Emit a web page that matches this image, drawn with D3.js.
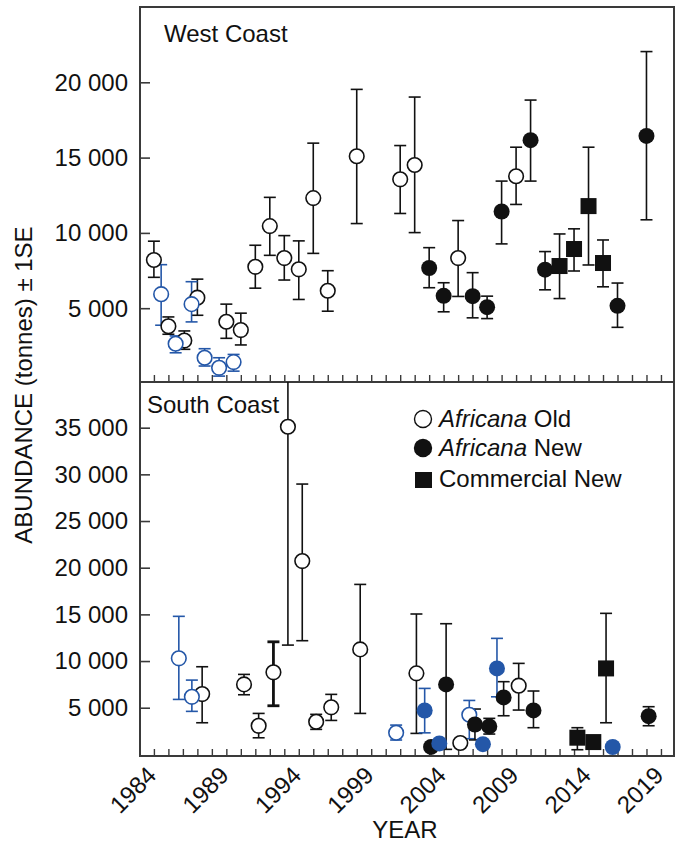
<!DOCTYPE html>
<html>
<head>
<meta charset="utf-8">
<script src="https://cdn.jsdelivr.net/npm/d3@7/dist/d3.min.js"></script>
<style>
  html, body { margin: 0; padding: 0; background: #fff; }
  svg { display: block; font-family: "Liberation Sans", Arial, sans-serif; }
</style>
</head>
<body>
<svg id="chart" width="683" height="843"></svg>
<script>
// Survey years on the shared x axis and the labelled subset
const yearTicks = d3.range(1984, 2020);
const yearLabels = [1984, 1989, 1994, 1999, 2004, 2009, 2014, 2019];
const westTicks = [5000, 10000, 15000, 20000];
const southTicks = [5000, 10000, 15000, 20000, 25000, 30000, 35000];

// Each row: [year, abundance (t), lower bound, upper bound]
const westOld = [
  [1984, 8200, 7050, 9450], [1985, 3800, 3270, 4420], [1986.1, 2850, 2270, 3490],
  [1987, 5700, 4530, 6930], [1989, 4100, 3000, 5270], [1990, 3550, 2560, 4670],
  [1991, 7750, 6330, 9180], [1992, 10450, 8510, 12360], [1993, 8330, 6870, 9820],
  [1994, 7580, 5580, 9470], [1995, 12310, 8640, 15960], [1996, 6160, 4800, 7490],
  [1998, 15090, 10620, 19530], [2001, 13560, 11290, 15800], [2002, 14510, 10020, 19020],
  [2005, 8330, 5780, 10820], [2009, 13760, 11890, 15690]
];
const westOldWinter = [
  [1984.5, 5930, 3870, 7890], [1985.5, 2640, 2040, 3160], [1986.6, 5270, 4090, 6760],
  [1987.5, 1710, 1160, 2310], [1988.5, 1040, 490, 1710], [1989.5, 1420, 820, 1930]
];
const westNew = [
  [2003, 7670, 6360, 9020], [2004, 5820, 4760, 6690], [2006, 5800, 4360, 7360],
  [2007, 5070, 4310, 5800], [2008, 11420, 9270, 13440], [2010, 16160, 13440, 18820],
  [2011, 7560, 6220, 8760], [2016, 5160, 3730, 6670], [2018, 16440, 10870, 22040]
];
const westCommercial = [
  [2012, 7800, 5640, 9930], [2013, 8930, 7470, 10270],
  [2014, 11780, 7870, 15690], [2015, 8000, 6420, 9530]
];

const southOld = [
  [1987.33, 6460, 3390, 9390], [1990.22, 7500, 6390, 8570], [1991.23, 3060, 1780, 4390],
  [1992.25, 8790, 5210, 12060], [1993.25, 35100, 11710, 58500], [1994.24, 20710, 12180, 28960],
  [1995.2, 3500, 2680, 4290], [1996.24, 5040, 3640, 6430], [1998.24, 11250, 4390, 18210],
  [2002.12, 8680, 2250, 15040], [2005.15, 1220, 1220, 1220], [2009.18, 7360, 4750, 9750]
];
const southOldSpring = [
  [1985.72, 10290, 5890, 14790], [1986.62, 6170, 4610, 7960],
  [2000.72, 2320, 1540, 3140], [2005.77, 4250, 1680, 5780]
];
const southNew = [
  [2003.13, 800, 800, 800], [2004.17, 7500, 540, 14000], [2006.16, 3200, 1550, 4860],
  [2007.15, 3000, 2180, 3860], [2008.14, 6100, 4140, 7790], [2010.2, 4710, 2860, 6790],
  [2018.15, 4100, 3070, 5110]
];
const southNewSpring = [
  [2002.69, 4700, 2310, 7070], [2003.7, 1180, 1180, 1180], [2006.71, 1100, 1100, 1100],
  [2007.68, 9210, 6170, 12430], [2015.67, 790, 500, 1050]
];
const southCommercial = [
  [2013.23, 1790, 500, 2860], [2014.33, 1320, 1320, 1320], [2015.21, 9210, 3390, 15110]
];

const BLUE = "#2457a8";
const INK = "#111";
const FRAME = "#3a3a3a";
const FS = 24;

const svg = d3.select("#chart");
const left = 140, right = 674;

const x = d3.scaleLinear().domain([1983.04, 2019.9]).range([left, right]);

const panels = [
  {
    name: "West Coast", top: 7, bottom: 382,
    y: d3.scaleLinear().domain([0, 25000]).range([383.5, 7]),
    ticks: westTicks, titleX: 164, titleY: 42,
    series: [
      { data: westOld, shape: "circle", color: INK, filled: false },
      { data: westOldWinter, shape: "circle", color: BLUE, filled: false },
      { data: westNew, shape: "circle", color: INK, filled: true },
      { data: westCommercial, shape: "square", color: INK, filled: true }
    ]
  },
  {
    name: "South Coast", top: 382, bottom: 756,
    y: d3.scaleLinear().domain([0, 40000]).range([754.4, 381]),
    ticks: southTicks, titleX: 147, titleY: 413,
    series: [
      { data: southOld, shape: "circle", color: INK, filled: false },
      { data: southOldSpring, shape: "circle", color: BLUE, filled: false },
      { data: southNew, shape: "circle", color: INK, filled: true },
      { data: southNewSpring, shape: "circle", color: BLUE, filled: true },
      { data: southCommercial, shape: "square", color: INK, filled: true }
    ]
  }
];

const fmt = v => d3.format(",")(v).replace(/,/g, " ");
const capHalf = 6;

panels.forEach((p, i) => {
  const g = svg.append("g");
  const clipId = "clip" + i;
  svg.append("clipPath").attr("id", clipId)
    .append("rect").attr("x", left).attr("y", p.top)
    .attr("width", right - left).attr("height", p.bottom - p.top);

  // y axis: inward ticks, labels on the left
  const yAxis = d3.axisRight(p.y).tickValues(p.ticks).tickSize(10).tickFormat("");
  g.append("g").attr("transform", `translate(${left},0)`).call(yAxis)
    .call(s => s.select(".domain").remove())
    .call(s => s.selectAll("line").attr("stroke", FRAME).attr("stroke-width", 1.6));
  g.selectAll(".ylab").data(p.ticks).join("text")
    .attr("x", 128).attr("y", d => p.y(d)).attr("dy", "0.35em")
    .attr("text-anchor", "end").attr("font-size", FS).attr("fill", INK)
    .text(fmt);

  // x ticks on the panel's bottom edge, pointing up
  const xAxis = d3.axisTop(x).tickValues(yearTicks).tickSize(7).tickFormat("");
  g.append("g").attr("transform", `translate(0,${p.bottom})`).call(xAxis)
    .call(s => s.select(".domain").remove())
    .call(s => s.selectAll("line").attr("stroke", FRAME).attr("stroke-width", 1.4));

  // frame
  g.append("rect").attr("x", left).attr("y", p.top)
    .attr("width", right - left).attr("height", p.bottom - p.top)
    .attr("fill", "none").attr("stroke", FRAME).attr("stroke-width", 2);

  // panel title
  g.append("text").attr("x", p.titleX).attr("y", p.titleY)
    .attr("font-size", FS).attr("fill", INK).text(p.name);

  const plot = g.append("g").attr("clip-path", `url(#${clipId})`);

  // error bars first, then markers on top
  p.series.forEach(s => {
    const eb = plot.append("g").attr("stroke", s.color);
    s.data.filter(d => d[3] > d[2]).forEach(d => {
      const cx = x(d[0]);
      const w = (p.name === "South Coast" && d[0] === 1992.25) ? 2.8 : 1.6;
      eb.append("line").attr("x1", cx).attr("x2", cx)
        .attr("y1", p.y(d[2])).attr("y2", p.y(d[3])).attr("stroke-width", w);
      [d[2], d[3]].forEach(v => {
        eb.append("line").attr("x1", cx - capHalf).attr("x2", cx + capHalf)
          .attr("y1", p.y(v)).attr("y2", p.y(v)).attr("stroke-width", w);
      });
    });
  });

  p.series.forEach(s => {
    if (s.shape === "circle") {
      plot.append("g").selectAll("circle").data(s.data).join("circle")
        .attr("cx", d => x(d[0])).attr("cy", d => p.y(d[1]))
        .attr("r", s.filled ? 8 : 7.3)
        .attr("fill", s.filled ? s.color : "#fff")
        .attr("stroke", s.color).attr("stroke-width", s.filled ? 0 : 1.6);
    } else {
      plot.append("g").selectAll("rect").data(s.data).join("rect")
        .attr("x", d => x(d[0]) - 8).attr("y", d => p.y(d[1]) - 8)
        .attr("width", 16).attr("height", 16).attr("fill", s.color);
    }
  });
});

// x tick labels, rotated
svg.append("g").selectAll("text").data(yearLabels).join("text")
  .attr("transform", d => `translate(${x(d) - 8},${765}) rotate(-45)`)
  .attr("text-anchor", "end").attr("dy", "0.7em")
  .attr("font-size", FS).attr("fill", INK).text(d => d);

// axis titles
svg.append("text").attr("x", 405).attr("y", 838).attr("text-anchor", "middle")
  .attr("font-size", FS).attr("fill", INK).text("YEAR");
svg.append("text").attr("transform", "translate(32,385) rotate(-90)")
  .attr("text-anchor", "middle").attr("font-size", FS).attr("fill", INK)
  .text("ABUNDANCE (tonnes) ± 1SE");

// legend
const legend = svg.append("g");
const legendRows = [
  { kind: "open", italic: "Africana", rest: " Old", y: 427 },
  { kind: "filled", italic: "Africana", rest: " New", y: 456 },
  { kind: "square", italic: "", rest: "Commercial New", y: 487 }
];
legendRows.forEach(r => {
  if (r.kind === "square") {
    legend.append("rect").attr("x", 415).attr("y", r.y - 15).attr("width", 17).attr("height", 16).attr("fill", INK);
  } else {
    legend.append("circle").attr("cx", 423).attr("cy", r.y - 8).attr("r", r.kind === "open" ? 8.5 : 9.2)
      .attr("fill", r.kind === "open" ? "#fff" : INK)
      .attr("stroke", INK).attr("stroke-width", r.kind === "open" ? 1.4 : 0);
  }
  const t = legend.append("text").attr("x", 439).attr("y", r.y).attr("font-size", FS).attr("fill", INK);
  if (r.italic) t.append("tspan").attr("font-style", "italic").text(r.italic);
  t.append("tspan").text(r.rest);
});
</script>
</body>
</html>
